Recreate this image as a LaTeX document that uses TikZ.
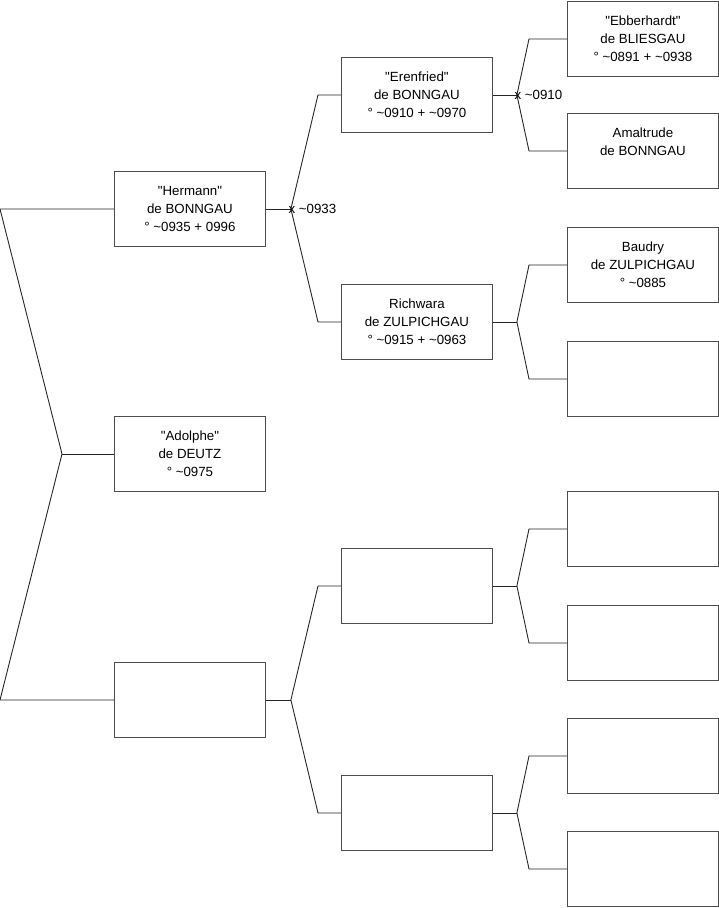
\documentclass[tikz,border=0pt]{standalone}
\usepackage{fontspec}
\setmainfont{Liberation Sans}[Ligatures=TeXOff]
\usetikzlibrary{calc}
\begin{document}
\begin{tikzpicture}[x=1pt,y=-1pt,
  person/.style={draw=black!70,line width=0.9pt,minimum width=151pt,minimum height=75pt,inner sep=0pt,
    align=center,font=\fontsize{13.3}{18}\selectfont,anchor=north west},
  link/.style={draw=black!85,line width=0.9pt},
  marr/.style={anchor=west,inner sep=0pt,font=\fontsize{13.3}{16}\selectfont}]
\useasboundingbox (0,0) rectangle (719,908);
% level 1
\node[person] (h) at (114,171) {"Hermann"\\de BONNGAU\\° \textasciitilde0935 + 0996};
\node[person] (a) at (114,416) {"Adolphe"\\de DEUTZ\\° \textasciitilde0975};
\node[person] (m) at (114,662) {};
% level 2
\node[person] (e) at (341,57) {"Erenfried"\\de BONNGAU\\° \textasciitilde0910 + \textasciitilde0970};
\node[person] (r) at (341,284) {Richwara\\de ZULPICHGAU\\° \textasciitilde0915 + \textasciitilde0963};
\node[person] (p3) at (341,548) {};
\node[person] (p4) at (341,775) {};
% level 3
\node[person] (eb) at (567,1) {"Ebberhardt"\\de BLIESGAU\\° \textasciitilde0891 + \textasciitilde0938};
\node[person] (am) at (567,113) {Amaltrude\\de BONNGAU\\\mbox{}};
\node[person] (ba) at (567,227) {Baudry\\de ZULPICHGAU\\° \textasciitilde0885};
\node[person] (q4) at (567,341) {};
\node[person] (q5) at (567,491) {};
\node[person] (q6) at (567,605) {};
\node[person] (q7) at (567,718) {};
\node[person] (q8) at (567,831) {};
% root fork
\coordinate (r0) at (0,0 |- h.west);
\coordinate (rj) at (62,0 |- a.west);
\coordinate (r1) at (0,0 |- m.west);
\draw[link] (h.west) -- (r0) -- (rj) -- (r1) -- (m.west);
\draw[link] (rj) -- (a.west);
% level1 -> level2
\coordinate (hj) at ($(h.east)+(25,0)$);
\draw[link] (h.east) -- (hj);
\draw[link] (e.west) -- ++(-23,0) -- (hj) -- ($(r.west)+(-23,0)$) -- (r.west);
\node[marr] (hx) at ($(hj)+(-2.5,-0.5)$) {x \textasciitilde0933};
\coordinate (mj) at ($(m.east)+(25,0)$);
\draw[link] (m.east) -- (mj);
\draw[link] (p3.west) -- ++(-23,0) -- (mj) -- ($(p4.west)+(-23,0)$) -- (p4.west);
% level2 -> level3
\coordinate (ej) at ($(e.east)+(24,0)$);
\draw[link] (e.east) -- (ej);
\draw[link] (eb.west) -- ++(-38,0) -- (ej) -- ($(am.west)+(-38,0)$) -- (am.west);
\node[marr] (ex) at ($(ej)+(-2.5,-0.5)$) {x \textasciitilde0910};
\coordinate (rj2) at ($(r.east)+(24,0)$);
\draw[link] (r.east) -- (rj2);
\draw[link] (ba.west) -- ++(-38,0) -- (rj2) -- ($(q4.west)+(-38,0)$) -- (q4.west);
\coordinate (pj3) at ($(p3.east)+(24,0)$);
\draw[link] (p3.east) -- (pj3);
\draw[link] (q5.west) -- ++(-38,0) -- (pj3) -- ($(q6.west)+(-38,0)$) -- (q6.west);
\coordinate (pj4) at ($(p4.east)+(24,0)$);
\draw[link] (p4.east) -- (pj4);
\draw[link] (q7.west) -- ++(-38,0) -- (pj4) -- ($(q8.west)+(-38,0)$) -- (q8.west);
\end{tikzpicture}
\end{document}
